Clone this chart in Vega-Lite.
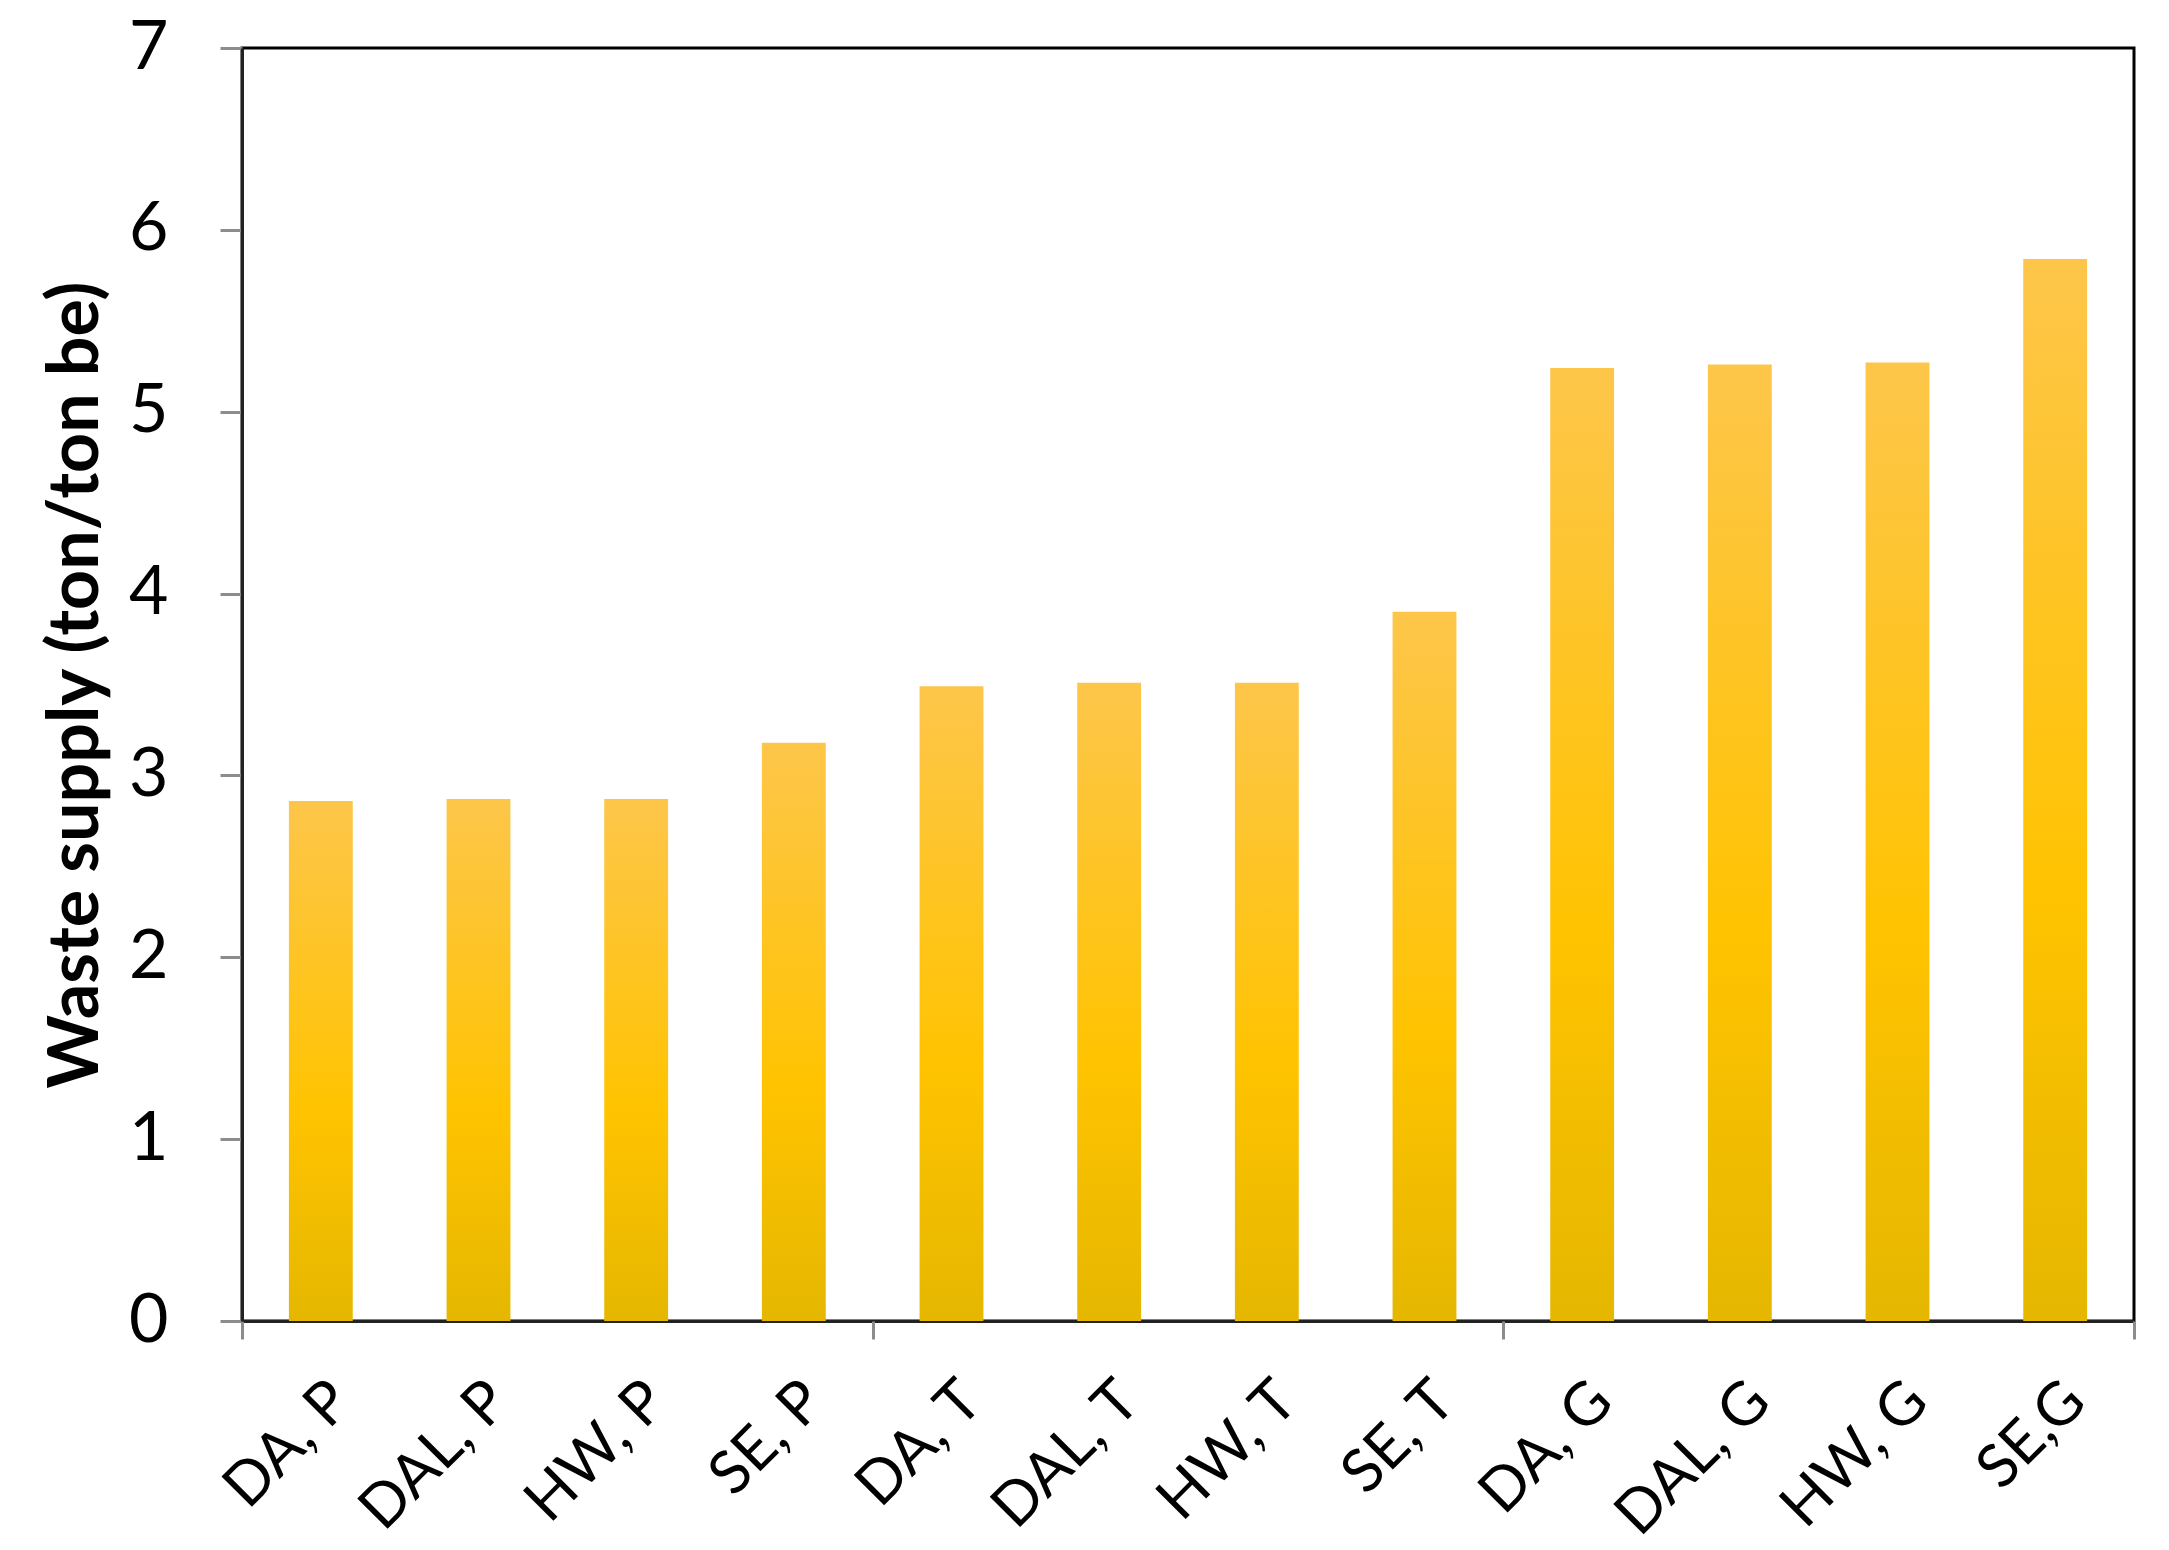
{
  "$schema": "https://vega.github.io/schema/vega-lite/v6.json",
  "width": 1892,
  "height": 1273,
  "autosize": "none",
  "padding": {"left": 242, "top": 48, "right": 35, "bottom": 229},
  "background": "white",
  "config": {
    "view": {"stroke": "#000", "strokeWidth": 3},
    "font": "Lato"
  },
  "datasets": {
    "bars": [
      {"label": "DA, P", "value": 2.86},
      {"label": "DAL, P", "value": 2.87},
      {"label": "HW, P", "value": 2.87},
      {"label": "SE, P", "value": 3.18},
      {"label": "DA, T", "value": 3.49},
      {"label": "DAL, T", "value": 3.51},
      {"label": "HW, T", "value": 3.51},
      {"label": "SE, T", "value": 3.9},
      {"label": "DA, G", "value": 5.24},
      {"label": "DAL, G", "value": 5.26},
      {"label": "HW, G", "value": 5.27},
      {"label": "SE,G", "value": 5.84}
    ],
    "groups": [
      {"boundary": 0},
      {"boundary": 4},
      {"boundary": 8},
      {"boundary": 12}
    ]
  },
  "layer": [
    {
      "data": {"name": "bars"},
      "mark": {
        "type": "bar",
        "width": {"band": 0.405},
        "color": {
          "gradient": "linear",
          "x1": 0, "y1": 0, "x2": 0, "y2": 1,
          "stops": [
            {"offset": 0, "color": "#FDC64A"},
            {"offset": 0.6, "color": "#FFC300"},
            {"offset": 1, "color": "#E5B700"}
          ]
        }
      },
      "encoding": {
        "x": {
          "field": "label",
          "type": "nominal",
          "sort": null,
          "scale": {"paddingInner": 0, "paddingOuter": 0},
          "axis": {
            "title": null,
            "labelAngle": -45,
            "labelAlign": "right",
            "labelBaseline": "top",
            "labelFontSize": 60,
            "labelColor": "#000",
            "labelPadding": 50,
            "labelLimit": 0,
            "ticks": false,
            "domainColor": "#222",
            "domainWidth": 3,
            "labelOverlap": false,
            "labelBound": false
          }
        },
        "y": {
          "field": "value",
          "type": "quantitative",
          "scale": {"domain": [0, 7], "nice": false},
          "axis": {
            "values": [0, 1, 2, 3, 4, 5, 6, 7],
            "grid": false,
            "title": "Waste supply (ton/ton be)",
            "titleFontSize": 70,
            "titleFontWeight": "bold",
            "titleColor": "#000",
            "titlePadding": 16,
            "labelFontSize": 68,
            "labelColor": "#000",
            "labelPadding": 52,
            "tickSize": 22,
            "tickWidth": 3,
            "tickColor": "#8c8c8c",
            "domainColor": "#222",
            "domainWidth": 3,
            "labelOverlap": false
          }
        }
      }
    },
    {
      "data": {"name": "groups"},
      "mark": {"type": "tick", "opacity": 0},
      "encoding": {
        "x": {
          "field": "boundary",
          "type": "quantitative",
          "scale": {"domain": [0, 12], "nice": false, "zero": false},
          "axis": {
            "orient": "bottom",
            "values": [0, 4, 8, 12],
            "labels": false,
            "domain": false,
            "grid": false,
            "title": null,
            "tickColor": "#8c8c8c",
            "tickWidth": 3,
            "tickSize": 18
          }
        }
      }
    }
  ],
  "resolve": {"scale": {"x": "independent"}, "axis": {"x": "independent"}}
}
